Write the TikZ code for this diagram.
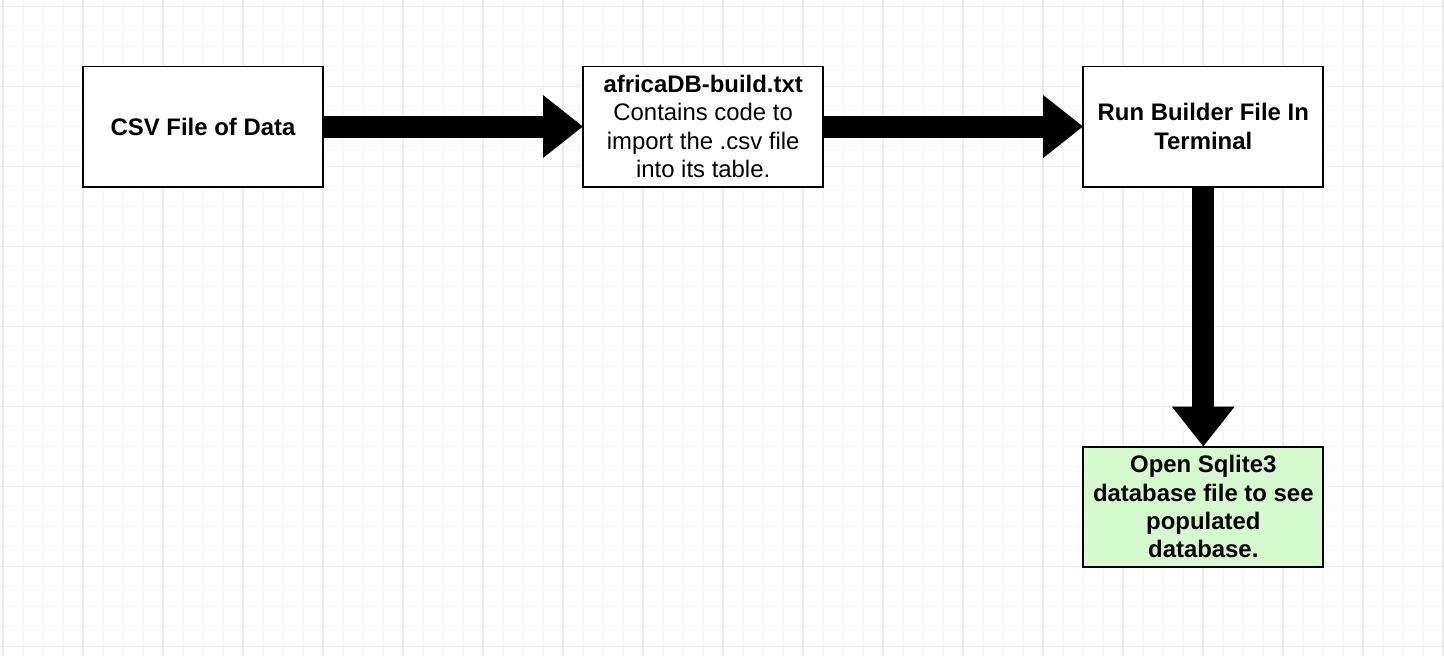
\documentclass[tikz,border=0pt]{standalone}
\usepackage{fontspec}
\setmainfont{Liberation Sans}
\usepackage{tikz}
\usetikzlibrary{positioning}
\usetikzlibrary{arrows.meta}
\colorlet{gridmajor}{black!8}
\colorlet{gridminor}{black!4}
\definecolor{openfill}{RGB}{213,250,205}
\newcommand{\drawgrid}{%
\foreach \gx in {3,23,...,1443} \draw[gridminor,line width=0.35pt] (\gx,0)--(\gx,656);
\foreach \gy in {6.5,26.5,...,646.5} \draw[gridminor,line width=0.35pt] (0,\gy)--(1444,\gy);
\foreach \gx in {3,83,...,1443} \draw[gridmajor,line width=0.45pt] (\gx,0)--(\gx,656);
\foreach \gy in {6.5,86.5,...,646.5} \draw[gridmajor,line width=0.45pt] (0,\gy)--(1444,\gy);
}

\begin{document}
\begin{tikzpicture}[
x=0.0125cm, y=-0.0125cm,
StepBox/.style={draw=black,line width=0.7pt,fill=white,minimum width=3cm,minimum height=1.5cm,
  inner sep=0pt,outer sep=0pt,align=center,font=\fontsize{8.5}{10}\selectfont},
BigArrow/.style={line width=0.275cm,-{Triangle[length=0.5cm,width=0.75cm]}}
]
\useasboundingbox (0,0) rectangle (1444,656);
\fill[white] (0,0) rectangle (1444,656);
\drawgrid

% the four steps
\node[StepBox,font=\fontsize{8.5}{10}\selectfont\bfseries] (csv) at (203,126.5) {CSV File of Data};
\node[StepBox, right=3.25cm of csv] (build) {\textbf{africaDB-build.txt}\\Contains code to\\import the .csv file\\into its table.};
\node[StepBox,font=\fontsize{8.5}{10}\selectfont\bfseries, right=3.25cm of build] (run) {Run Builder File In\\Terminal};
\node[StepBox,fill=openfill,font=\fontsize{8.5}{10}\selectfont\bfseries, below=3.25cm of run] (open) {Open Sqlite3\\database file to see\\populated\\database.};

\draw[BigArrow] (csv.east) -- (build.west);
\draw[BigArrow] (build.east) -- (run.west);
\draw[BigArrow] (run.south) -- (open.north);

\end{tikzpicture}
\end{document}
